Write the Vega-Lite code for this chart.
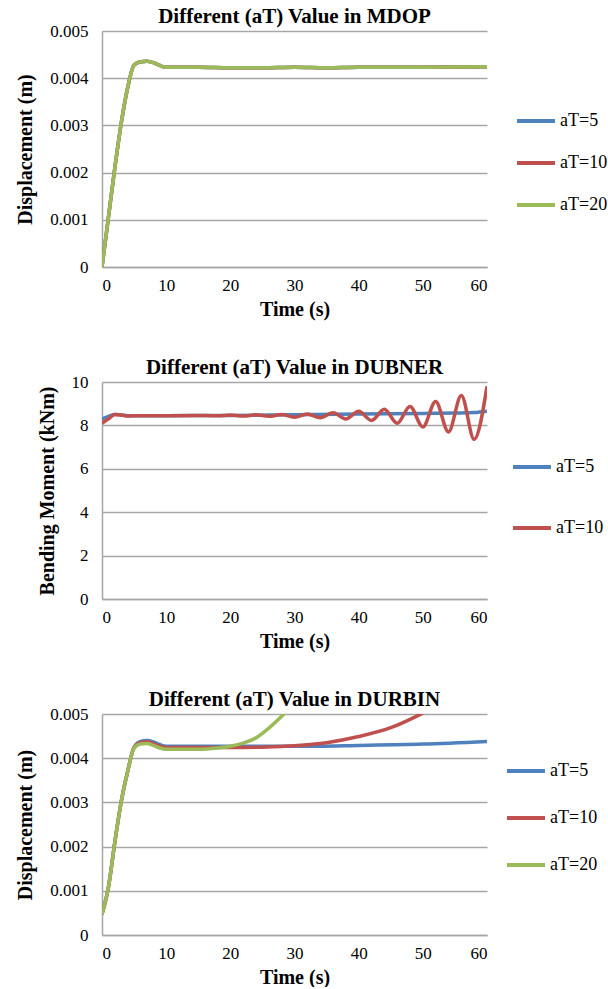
{
  "$schema": "https://vega.github.io/schema/vega-lite/v6.json",
  "background": "white",
  "padding": {"left": 15, "top": 6, "right": 0, "bottom": 0},
  "spacing": 38,
  "config": {
    "view": {"stroke": null},
    "font": "Liberation Serif",
    "title": {"font": "Liberation Serif", "fontSize": 21, "fontWeight": "bold", "color": "black", "anchor": "middle", "frame": "group", "offset": -5},
    "axis": {"labelFont": "Liberation Serif", "labelFontSize": 17, "labelColor": "black", "titleFont": "Liberation Serif", "titleFontSize": 20, "titleFontWeight": "bold", "titleColor": "black", "domainColor": "#A6A6A6", "domainWidth": 1.5, "gridColor": "#A6A6A6", "gridWidth": 1.5, "ticks": false},
    "axisX": {"grid": false, "labelPadding": 10, "titlePadding": 6},
    "axisY": {"labelPadding": 14, "titlePadding": 14},
    "legend": {"orient": "none", "labelFont": "Liberation Serif", "labelFontSize": 18, "labelColor": "black", "symbolType": "stroke", "symbolStrokeWidth": 4, "symbolSize": 1444, "padding": 0, "labelOffset": 3, "title": null}
  },
  "datasets": {
    "mdop": [
      {"t": 0, "v": 0, "s": "aT=5"}, {"t": 1, "v": 0.00105, "s": "aT=5"}, {"t": 2, "v": 0.0021, "s": "aT=5"}, {"t": 3, "v": 0.00305, "s": "aT=5"}, {"t": 4, "v": 0.0038, "s": "aT=5"}, {"t": 5, "v": 0.00428, "s": "aT=5"}, {"t": 6, "v": 0.00435, "s": "aT=5"}, {"t": 7, "v": 0.00436, "s": "aT=5"}, {"t": 8, "v": 0.00433, "s": "aT=5"}, {"t": 9, "v": 0.00427, "s": "aT=5"}, {"t": 10, "v": 0.00423, "s": "aT=5"}, {"t": 15, "v": 0.00423, "s": "aT=5"}, {"t": 20, "v": 0.00422, "s": "aT=5"}, {"t": 25, "v": 0.00422, "s": "aT=5"}, {"t": 30, "v": 0.00423, "s": "aT=5"}, {"t": 35, "v": 0.00422, "s": "aT=5"}, {"t": 40, "v": 0.00423, "s": "aT=5"}, {"t": 50, "v": 0.00423, "s": "aT=5"}, {"t": 60, "v": 0.00424, "s": "aT=5"},
      {"t": 0, "v": 0, "s": "aT=10"}, {"t": 1, "v": 0.00105, "s": "aT=10"}, {"t": 2, "v": 0.0021, "s": "aT=10"}, {"t": 3, "v": 0.00305, "s": "aT=10"}, {"t": 4, "v": 0.0038, "s": "aT=10"}, {"t": 5, "v": 0.00428, "s": "aT=10"}, {"t": 6, "v": 0.00435, "s": "aT=10"}, {"t": 7, "v": 0.00436, "s": "aT=10"}, {"t": 8, "v": 0.00433, "s": "aT=10"}, {"t": 9, "v": 0.00427, "s": "aT=10"}, {"t": 10, "v": 0.00423, "s": "aT=10"}, {"t": 15, "v": 0.00423, "s": "aT=10"}, {"t": 20, "v": 0.00422, "s": "aT=10"}, {"t": 25, "v": 0.00422, "s": "aT=10"}, {"t": 30, "v": 0.00423, "s": "aT=10"}, {"t": 35, "v": 0.00422, "s": "aT=10"}, {"t": 40, "v": 0.00423, "s": "aT=10"}, {"t": 50, "v": 0.00423, "s": "aT=10"}, {"t": 60, "v": 0.00424, "s": "aT=10"},
      {"t": 0, "v": 0, "s": "aT=20"}, {"t": 1, "v": 0.00105, "s": "aT=20"}, {"t": 2, "v": 0.0021, "s": "aT=20"}, {"t": 3, "v": 0.00305, "s": "aT=20"}, {"t": 4, "v": 0.0038, "s": "aT=20"}, {"t": 5, "v": 0.00428, "s": "aT=20"}, {"t": 6, "v": 0.00435, "s": "aT=20"}, {"t": 7, "v": 0.00436, "s": "aT=20"}, {"t": 8, "v": 0.00433, "s": "aT=20"}, {"t": 9, "v": 0.00427, "s": "aT=20"}, {"t": 10, "v": 0.00423, "s": "aT=20"}, {"t": 15, "v": 0.00423, "s": "aT=20"}, {"t": 20, "v": 0.00422, "s": "aT=20"}, {"t": 25, "v": 0.00422, "s": "aT=20"}, {"t": 30, "v": 0.00423, "s": "aT=20"}, {"t": 35, "v": 0.00422, "s": "aT=20"}, {"t": 40, "v": 0.00423, "s": "aT=20"}, {"t": 50, "v": 0.00423, "s": "aT=20"}, {"t": 60, "v": 0.00424, "s": "aT=20"}
    ],
    "dubner": [
      {"t": 0, "v": 8.3, "s": "aT=5"}, {"t": 1, "v": 8.42, "s": "aT=5"}, {"t": 2, "v": 8.5, "s": "aT=5"}, {"t": 3, "v": 8.48, "s": "aT=5"}, {"t": 4, "v": 8.45, "s": "aT=5"}, {"t": 10, "v": 8.45, "s": "aT=5"}, {"t": 20, "v": 8.46, "s": "aT=5"}, {"t": 30, "v": 8.49, "s": "aT=5"}, {"t": 40, "v": 8.52, "s": "aT=5"}, {"t": 50, "v": 8.55, "s": "aT=5"}, {"t": 55, "v": 8.57, "s": "aT=5"}, {"t": 58, "v": 8.59, "s": "aT=5"}, {"t": 60, "v": 8.65, "s": "aT=5"},
      {"t": 0, "v": 8.1, "s": "aT=10"}, {"t": 1, "v": 8.3, "s": "aT=10"}, {"t": 2, "v": 8.5, "s": "aT=10"}, {"t": 3, "v": 8.48, "s": "aT=10"}, {"t": 4, "v": 8.43, "s": "aT=10"}, {"t": 6, "v": 8.45, "s": "aT=10"}, {"t": 10, "v": 8.45, "s": "aT=10"}, {"t": 16, "v": 8.46, "s": "aT=10"}, {"t": 18, "v": 8.44, "s": "aT=10"}, {"t": 20, "v": 8.48, "s": "aT=10"}, {"t": 22, "v": 8.43, "s": "aT=10"}, {"t": 24, "v": 8.49, "s": "aT=10"}, {"t": 26, "v": 8.42, "s": "aT=10"}, {"t": 28, "v": 8.5, "s": "aT=10"}, {"t": 30, "v": 8.38, "s": "aT=10"}, {"t": 32, "v": 8.53, "s": "aT=10"}, {"t": 34, "v": 8.35, "s": "aT=10"}, {"t": 36, "v": 8.58, "s": "aT=10"}, {"t": 38, "v": 8.3, "s": "aT=10"}, {"t": 40, "v": 8.65, "s": "aT=10"}, {"t": 42, "v": 8.23, "s": "aT=10"}, {"t": 44, "v": 8.74, "s": "aT=10"}, {"t": 46, "v": 8.1, "s": "aT=10"}, {"t": 48, "v": 8.87, "s": "aT=10"}, {"t": 50, "v": 7.93, "s": "aT=10"}, {"t": 52, "v": 9.1, "s": "aT=10"}, {"t": 54, "v": 7.7, "s": "aT=10"}, {"t": 56, "v": 9.38, "s": "aT=10"}, {"t": 58, "v": 7.36, "s": "aT=10"}, {"t": 60, "v": 9.8, "s": "aT=10"}
    ],
    "durbin": [
      {"t": 0, "v": 0.00047, "s": "aT=5"}, {"t": 1, "v": 0.00108, "s": "aT=5"}, {"t": 2, "v": 0.0021, "s": "aT=5"}, {"t": 3, "v": 0.00302, "s": "aT=5"}, {"t": 4, "v": 0.0037, "s": "aT=5"}, {"t": 5, "v": 0.00425, "s": "aT=5"}, {"t": 6, "v": 0.00438, "s": "aT=5"}, {"t": 7, "v": 0.0044, "s": "aT=5"}, {"t": 8, "v": 0.00437, "s": "aT=5"}, {"t": 9, "v": 0.00431, "s": "aT=5"}, {"t": 10, "v": 0.00427, "s": "aT=5"}, {"t": 15, "v": 0.00427, "s": "aT=5"}, {"t": 20, "v": 0.00427, "s": "aT=5"}, {"t": 30, "v": 0.00427, "s": "aT=5"}, {"t": 40, "v": 0.00429, "s": "aT=5"}, {"t": 50, "v": 0.00432, "s": "aT=5"}, {"t": 60, "v": 0.00438, "s": "aT=5"},
      {"t": 0, "v": 0.00047, "s": "aT=10"}, {"t": 1, "v": 0.00108, "s": "aT=10"}, {"t": 2, "v": 0.0021, "s": "aT=10"}, {"t": 3, "v": 0.00302, "s": "aT=10"}, {"t": 4, "v": 0.0037, "s": "aT=10"}, {"t": 5, "v": 0.00424, "s": "aT=10"}, {"t": 6, "v": 0.00435, "s": "aT=10"}, {"t": 7, "v": 0.00437, "s": "aT=10"}, {"t": 8, "v": 0.00433, "s": "aT=10"}, {"t": 9, "v": 0.00427, "s": "aT=10"}, {"t": 10, "v": 0.00424, "s": "aT=10"}, {"t": 15, "v": 0.00424, "s": "aT=10"}, {"t": 20, "v": 0.00424, "s": "aT=10"}, {"t": 25, "v": 0.00425, "s": "aT=10"}, {"t": 30, "v": 0.00428, "s": "aT=10"}, {"t": 35, "v": 0.00435, "s": "aT=10"}, {"t": 40, "v": 0.00449, "s": "aT=10"}, {"t": 45, "v": 0.00469, "s": "aT=10"}, {"t": 50, "v": 0.00502, "s": "aT=10"},
      {"t": 0, "v": 0.00047, "s": "aT=20"}, {"t": 1, "v": 0.00108, "s": "aT=20"}, {"t": 2, "v": 0.0021, "s": "aT=20"}, {"t": 3, "v": 0.00302, "s": "aT=20"}, {"t": 4, "v": 0.0037, "s": "aT=20"}, {"t": 5, "v": 0.00423, "s": "aT=20"}, {"t": 6, "v": 0.00432, "s": "aT=20"}, {"t": 7, "v": 0.00433, "s": "aT=20"}, {"t": 8, "v": 0.00429, "s": "aT=20"}, {"t": 9, "v": 0.00423, "s": "aT=20"}, {"t": 10, "v": 0.0042, "s": "aT=20"}, {"t": 15, "v": 0.0042, "s": "aT=20"}, {"t": 18, "v": 0.00423, "s": "aT=20"}, {"t": 20, "v": 0.00427, "s": "aT=20"}, {"t": 22, "v": 0.00434, "s": "aT=20"}, {"t": 24, "v": 0.00446, "s": "aT=20"}, {"t": 26, "v": 0.00468, "s": "aT=20"}, {"t": 28, "v": 0.00495, "s": "aT=20"}, {"t": 29, "v": 0.0051, "s": "aT=20"}
    ]
  },
  "vconcat": [
    {
      "width": 385, "height": 236,
      "title": "Different (aT) Value in MDOP",
      "data": {"name": "mdop"},
      "mark": {"type": "line", "strokeWidth": 3.5, "interpolate": "monotone", "clip": true},
      "encoding": {
        "x": {"field": "t", "type": "quantitative", "scale": {"domain": [0, 60], "nice": false}, "axis": {"values": [0, 10, 20, 30, 40, 50, 60], "title": "Time (s)"}},
        "y": {"field": "v", "type": "quantitative", "scale": {"domain": [0, 0.005], "nice": false}, "axis": {"values": [0, 0.001, 0.002, 0.003, 0.004, 0.005], "format": ".3~f", "title": "Displacement (m)"}},
        "color": {"field": "s", "type": "nominal", "scale": {"domain": ["aT=5", "aT=10", "aT=20"], "range": ["#4F81BD", "#C0504D", "#9BBB59"]}, "legend": {"legendX": 413, "legendY": 69, "rowPadding": 12}}
      }
    },
    {
      "width": 385, "height": 217,
      "title": "Different (aT) Value in DUBNER",
      "data": {"name": "dubner"},
      "mark": {"type": "line", "strokeWidth": 3.5, "interpolate": "monotone", "clip": true},
      "encoding": {
        "x": {"field": "t", "type": "quantitative", "scale": {"domain": [0, 60], "nice": false}, "axis": {"values": [0, 10, 20, 30, 40, 50, 60], "title": "Time (s)"}},
        "y": {"field": "v", "type": "quantitative", "scale": {"domain": [0, 10], "nice": false}, "axis": {"values": [0, 2, 4, 6, 8, 10], "title": "Bending Moment (kNm)"}},
        "color": {"field": "s", "type": "nominal", "scale": {"domain": ["aT=5", "aT=10"], "range": ["#4F81BD", "#C0504D"]}, "legend": {"legendX": 409, "legendY": 64, "rowPadding": 31}}
      }
    },
    {
      "width": 385, "height": 221,
      "title": "Different (aT) Value in DURBIN",
      "data": {"name": "durbin"},
      "mark": {"type": "line", "strokeWidth": 3.5, "interpolate": "monotone", "clip": true},
      "encoding": {
        "x": {"field": "t", "type": "quantitative", "scale": {"domain": [0, 60], "nice": false}, "axis": {"values": [0, 10, 20, 30, 40, 50, 60], "title": "Time (s)"}},
        "y": {"field": "v", "type": "quantitative", "scale": {"domain": [0, 0.005], "nice": false}, "axis": {"values": [0, 0.001, 0.002, 0.003, 0.004, 0.005], "format": ".3~f", "title": "Displacement (m)"}},
        "color": {"field": "s", "type": "nominal", "scale": {"domain": ["aT=5", "aT=10", "aT=20"], "range": ["#4F81BD", "#C0504D", "#9BBB59"]}, "legend": {"legendX": 403, "legendY": 36, "rowPadding": 17}}
      }
    }
  ],
  "resolve": {"scale": {"color": "independent", "x": "independent", "y": "independent"}, "legend": {"color": "independent"}}
}
